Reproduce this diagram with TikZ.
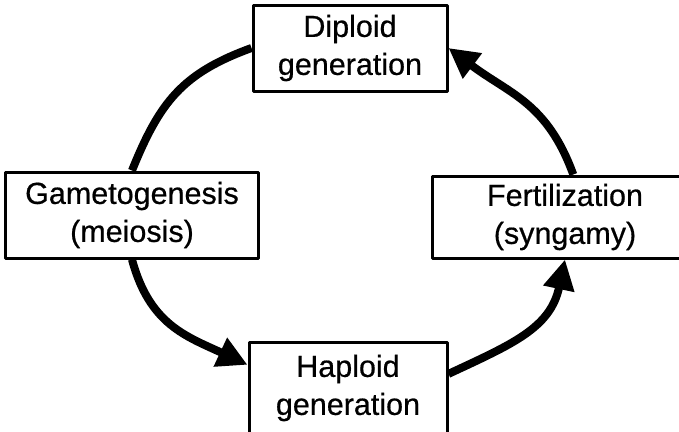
\documentclass[tikz,border=0pt]{standalone}
\usepackage{fontspec}
\setmainfont{Liberation Sans}[FakeBold=0.6]
\usetikzlibrary{arrows.meta}
\begin{document}
\begin{tikzpicture}[x=1pt, y=1pt, line join=round, >={Triangle[length=30pt,width=30pt]},
    font=\fontsize{30.5}{38}\selectfont,
    stage/.style={draw, line width=3pt, align=center, inner sep=0pt},
    loopline/.style={line width=8pt, looseness=1.1}]
  \useasboundingbox (0,0) rectangle (679,-431);
  \node[stage, minimum width=194pt, minimum height=86pt] (dip) at (350,-48) {Diploid\\generation};
  \node[stage, minimum width=253pt, minimum height=86pt] (gam) at (132,-215) {Gametogenesis\\(meiosis)};
  \node[stage, minimum width=266pt, minimum height=82pt] (fert) at (565,-217) {Fertilization\\(syngamy)};
  \node[stage, minimum width=198pt, minimum height=92pt] (hap) at (348,-388) {Haploid\\generation};
  \draw[loopline] (dip.west) to[out=200,in=68] (gam.north);
  \draw[loopline,->] (gam.south) to[out=-75,in=155] (hap.167);
  \draw[loopline,->] (hap.8) to[out=25,in=-102] (fert.south);
  \draw[loopline,->] (fert.79) to[out=110,in=-37] (dip.east);
\end{tikzpicture}
\end{document}
